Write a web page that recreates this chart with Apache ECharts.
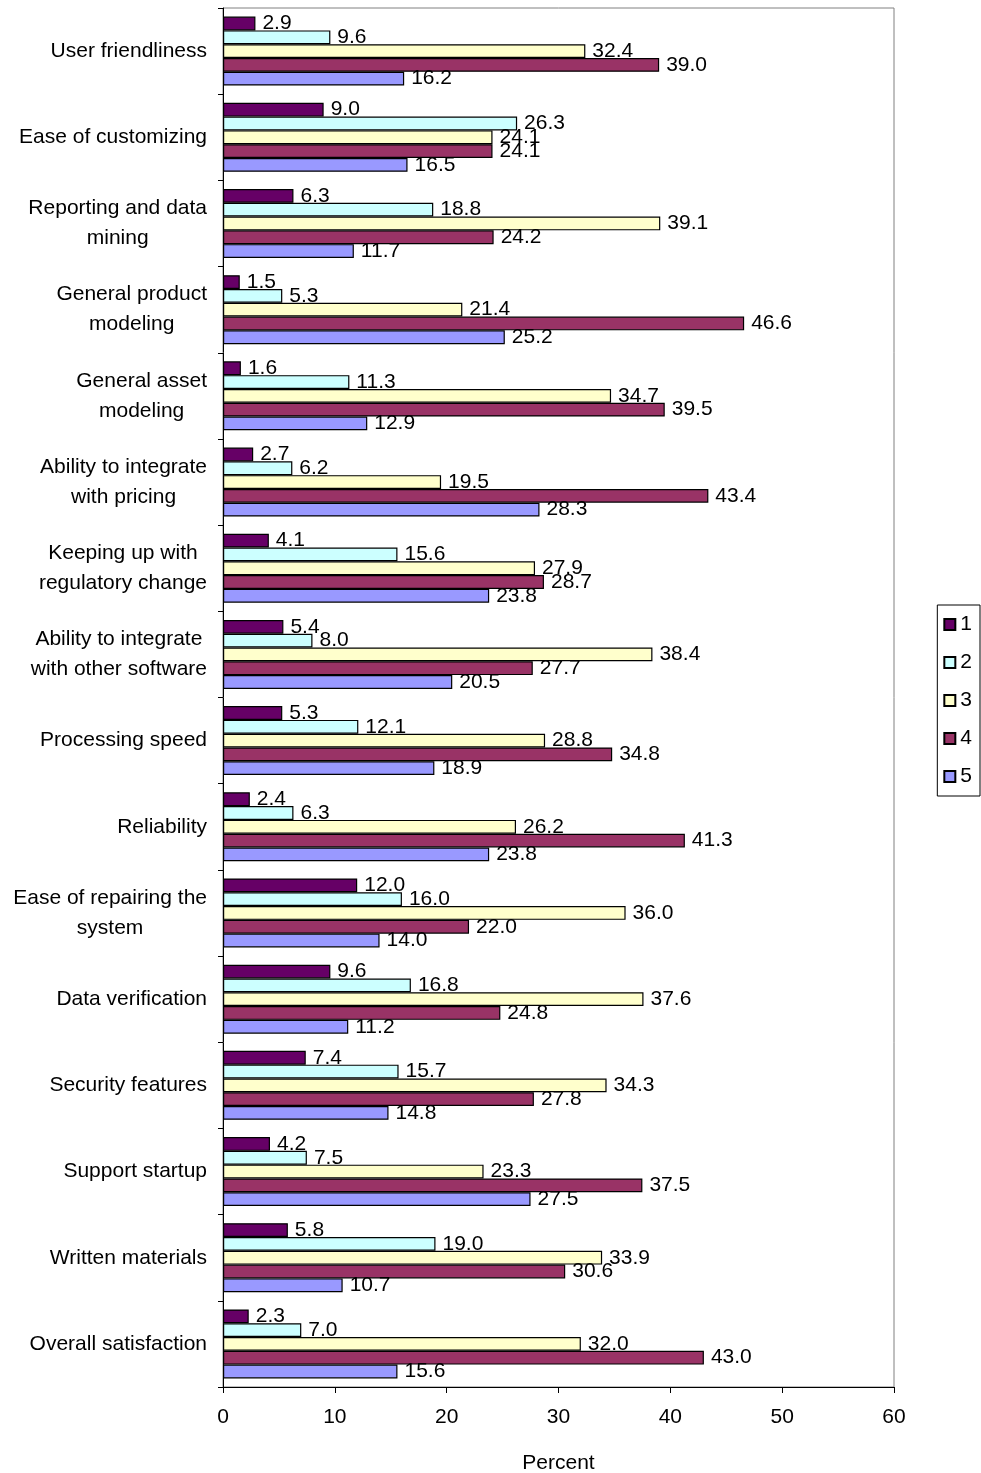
<!DOCTYPE html>
<html lang="en">
<head>
    <meta charset="UTF-8"/>
    <title>Satisfaction ratings</title>
    <script src="https://cdn.jsdelivr.net/npm/echarts@6/dist/echarts.min.js"></script>
    <style>
        body { margin: 0; background: #fff; }
        #chart { width: 981px; height: 1473px; }
    </style>
</head>
<body>
<div id="chart"></div>
<script>
    const categories = [
        "User friendliness",
        "Ease of customizing",
        "Reporting and data\nmining",
        "General product\nmodeling",
        "General asset\nmodeling",
        "Ability to integrate\nwith pricing",
        "Keeping up with\nregulatory change",
        "Ability to integrate\nwith other software",
        "Processing speed",
        "Reliability",
        "Ease of repairing the\nsystem",
        "Data verification",
        "Security features",
        "Support startup",
        "Written materials",
        "Overall satisfaction"
    ];

    const rating1 = [2.9, 9.0, 6.3, 1.5, 1.6, 2.7, 4.1, 5.4, 5.3, 2.4, 12.0, 9.6, 7.4, 4.2, 5.8, 2.3];
    const rating2 = [9.6, 26.3, 18.8, 5.3, 11.3, 6.2, 15.6, 8.0, 12.1, 6.3, 16.0, 16.8, 15.7, 7.5, 19.0, 7.0];
    const rating3 = [32.4, 24.1, 39.1, 21.4, 34.7, 19.5, 27.9, 38.4, 28.8, 26.2, 36.0, 37.6, 34.3, 23.3, 33.9, 32.0];
    const rating4 = [39.0, 24.1, 24.2, 46.6, 39.5, 43.4, 28.7, 27.7, 34.8, 41.3, 22.0, 24.8, 27.8, 37.5, 30.6, 43.0];
    const rating5 = [16.2, 16.5, 11.7, 25.2, 12.9, 28.3, 23.8, 20.5, 18.9, 23.8, 14.0, 11.2, 14.8, 27.5, 10.7, 15.6];

    const seriesNames = ["1", "2", "3", "4", "5"];
    const seriesColors = ["#660066", "#CCFFFF", "#FFFFCC", "#993366", "#9999FF"];
    const seriesData = [rating1, rating2, rating3, rating4, rating5];

    const font = "Liberation Sans, Arial, sans-serif";

    const chart = echarts.init(document.getElementById("chart"));
    chart.setOption({
        animation: false,
        textStyle: {fontFamily: font},
        grid: {
            left: 223, right: 87, top: 8, bottom: 86,
            outerBoundsMode: "none",
            containLabel: false,
            show: true, borderColor: "#808080", borderWidth: 1
        },
        legend: {
            orient: "vertical",
            right: 1,
            top: 605,
            data: seriesNames,
            icon: "rect",
            itemWidth: 11,
            itemHeight: 11,
            itemGap: 17,
            padding: [9, 8, 9, 6],
            borderColor: "#000",
            borderWidth: 1,
            textStyle: {fontSize: 21, color: "#000", fontFamily: font}
        },
        xAxis: {
            type: "value",
            min: 0,
            max: 60,
            interval: 10,
            name: "Percent",
            nameLocation: "middle",
            nameGap: 66,
            nameTextStyle: {fontSize: 21, color: "#000", fontFamily: font},
            axisLine: {show: true, lineStyle: {color: "#000"}},
            axisTick: {show: true, length: 6, lineStyle: {color: "#000"}},
            axisLabel: {fontSize: 21, color: "#000", margin: 20, fontFamily: font},
            splitLine: {show: false}
        },
        yAxis: {
            type: "category",
            inverse: true,
            data: categories,
            axisLine: {show: true, lineStyle: {color: "#000"}},
            axisTick: {show: true, length: 5, lineStyle: {color: "#000"}},
            axisLabel: {
                margin: 16,
                formatter: function (v) {
                    return v.split("\n").map(function (s) { return "{c|" + s + "}"; }).join("\n");
                },
                rich: {
                    c: {fontSize: 21, color: "#000", align: "center", lineHeight: 30, fontFamily: font}
                }
            }
        },
        series: seriesNames.map(function (name, i) {
            return {
                name: name,
                type: "bar",
                data: seriesData[i],
                barGap: "0%",
                barCategoryGap: "20%",
                itemStyle: {color: seriesColors[i], borderColor: "#000", borderWidth: 1.2},
                label: {
                    show: true,
                    position: "right",
                    distance: 7,
                    fontSize: 21,
                    color: "#000",
                    fontFamily: font,
                    formatter: function (p) { return p.value.toFixed(1); }
                }
            };
        })
    });
</script>
</body>
</html>
